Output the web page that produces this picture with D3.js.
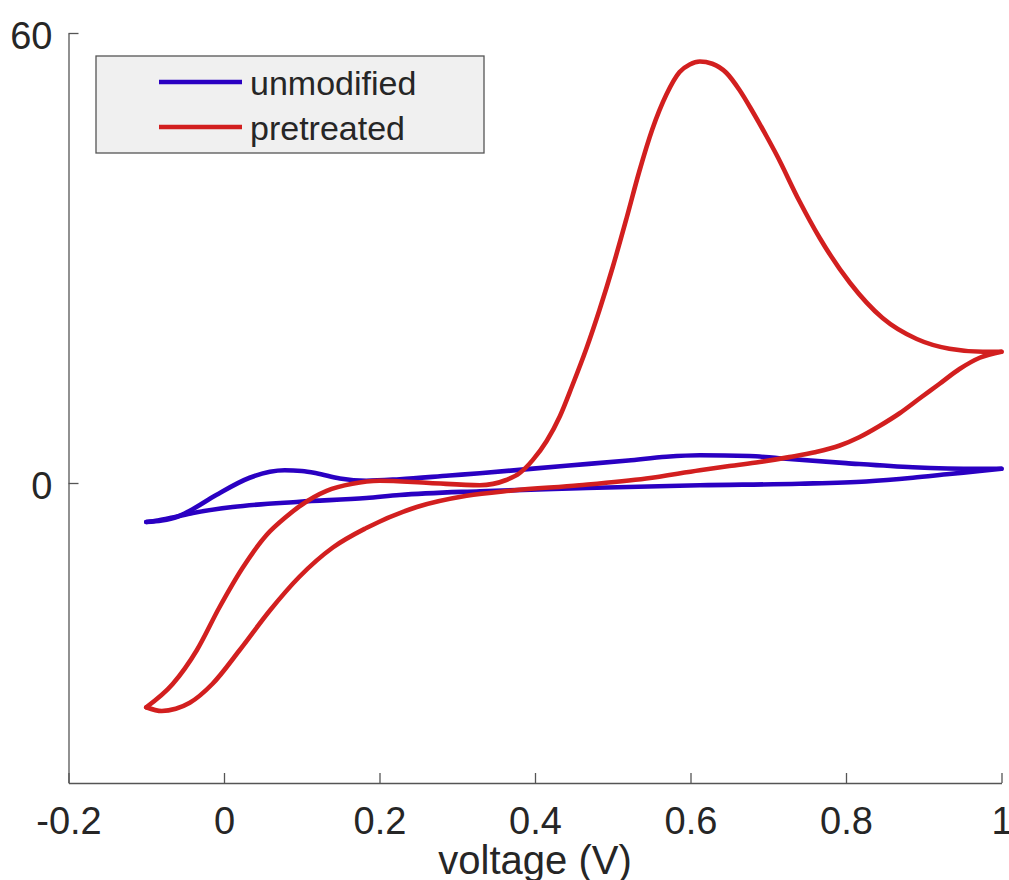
<!DOCTYPE html>
<html>
<head>
<meta charset="utf-8">
<script src="https://cdn.jsdelivr.net/npm/d3@7/dist/d3.min.js"></script>
<style>
  html, body { margin: 0; padding: 0; background: #ffffff; }
  svg { display: block; }
  text { font-family: "Liberation Sans", Arial, Helvetica, sans-serif; fill: #262626; }
</style>
</head>
<body>
<svg id="chart" width="1009" height="880"></svg>
<script>
// Cyclic voltammograms: forward sweep (-0.1 V -> 1.0 V) then reverse sweep back.
const seriesNames = ["unmodified", "pretreated"];
const seriesColors = ["#2a00c2", "#d21f1f"];

// unmodified electrode
const unmodForwardV = [-0.100, -0.080, -0.060, -0.044, -0.010, 0.033, 0.059, 0.078, 0.100, 0.119, 0.149, 0.183, 0.226, 0.290, 0.329, 0.440, 0.520, 0.569, 0.612, 0.676, 0.714, 0.800, 0.886, 0.972, 1.000];
const unmodForwardI = [-5.2, -5.0, -4.5, -3.7, -1.6, 0.7, 1.5, 1.7, 1.6, 1.3, 0.6, 0.3, 0.5, 1.0, 1.3, 2.3, 3.0, 3.5, 3.7, 3.6, 3.3, 2.65, 2.1, 1.9, 1.9];
const unmodReverseV = [1.000, 0.972, 0.933, 0.886, 0.826, 0.740, 0.612, 0.457, 0.329, 0.226, 0.183, 0.097, 0.011, -0.040, -0.066, -0.085, -0.100];
const unmodReverseI = [1.9, 1.6, 1.2, 0.7, 0.2, -0.1, -0.3, -0.7, -1.1, -1.6, -2.0, -2.5, -3.2, -4.0, -4.6, -5.0, -5.2];

// pretreated electrode
const pretForwardV = [-0.100, -0.066, -0.035, -0.006, 0.024, 0.055, 0.080, 0.100, 0.132, 0.165, 0.200, 0.264, 0.329, 0.363, 0.380, 0.397, 0.415, 0.432, 0.448, 0.466, 0.483, 0.500, 0.518, 0.534, 0.551, 0.569, 0.586, 0.599, 0.612, 0.628, 0.646, 0.663, 0.680, 0.698, 0.711, 0.740, 0.766, 0.805, 0.847, 0.891, 0.933, 0.976, 1.000];
const pretForwardI = [-29.9, -26.8, -22.3, -16.6, -11.3, -6.9, -4.5, -2.9, -1.05, -0.1, 0.3, 0.0, -0.3, 0.4, 1.3, 3.05, 5.6, 8.9, 13.0, 17.9, 23.1, 28.8, 35.4, 41.5, 47.2, 51.8, 54.8, 55.8, 56.2, 55.9, 54.7, 52.4, 49.5, 46.2, 43.7, 37.6, 32.7, 26.7, 22.0, 19.2, 17.9, 17.5, 17.5];
const pretReverseV = [1.000, 0.972, 0.946, 0.920, 0.895, 0.869, 0.843, 0.817, 0.792, 0.760, 0.727, 0.689, 0.650, 0.612, 0.543, 0.457, 0.371, 0.312, 0.248, 0.183, 0.140, 0.097, 0.059, 0.020, -0.015, -0.044, -0.062, -0.080, -0.100];
const pretReverseI = [17.5, 16.7, 15.2, 13.2, 11.3, 9.3, 7.6, 6.1, 5.0, 4.1, 3.45, 2.8, 2.26, 1.7, 0.6, -0.3, -1.0, -1.7, -3.2, -6.0, -8.6, -12.5, -17.0, -22.3, -26.8, -29.3, -30.1, -30.4, -29.9];

// axis ticks
const xTicks = [-0.2, 0, 0.2, 0.4, 0.6, 0.8, 1];
const yTicks = [0, 60];
const xTitle = "voltage (V)";

const svg = d3.select("#chart");

const x = d3.scaleLinear().domain([-0.2, 1]).range([68.5, 1001.5]);
const y = d3.scaleLinear().domain([-40, 60]).range([783, 33]);

function toPoints(vs, is) {
  const pts = vs.map((v, k) => ({ v: v, i: is[k] }));
  return pts.sort((a, b) => a.v - b.v);
}

// each sweep is drawn as its own branch so it can use a monotone-in-x curve
const branches = [
  { s: 0, pts: toPoints(unmodForwardV, unmodForwardI) },
  { s: 0, pts: toPoints(unmodReverseV, unmodReverseI) },
  { s: 1, pts: toPoints(pretForwardV, pretForwardI) },
  { s: 1, pts: toPoints(pretReverseV, pretReverseI) }
];

const line = d3.line()
  .x(d => x(d.v))
  .y(d => y(d.i))
  .curve(d3.curveMonotoneX);

// axes (ticks pointing inward, no box)
const xAxis = d3.axisBottom(x).tickValues(xTicks)
  .tickFormat(d => String(+d.toFixed(1)))
  .tickSizeInner(-10).tickSizeOuter(0).tickPadding(24);
const yAxis = d3.axisLeft(y).tickValues(yTicks)
  .tickFormat(d => String(d))
  .tickSizeInner(-10).tickSizeOuter(0).tickPadding(16);

const gx = svg.append("g").attr("transform", "translate(0,783)").call(xAxis);
const gy = svg.append("g").attr("transform", "translate(68.5,0)").call(yAxis);

[gx, gy].forEach(g => {
  g.select(".domain").attr("stroke", "#555").attr("stroke-width", 1.3);
  g.selectAll(".tick line").attr("stroke", "#555").attr("stroke-width", 1.3);
  g.selectAll(".tick text")
    .style("font-family", "'Liberation Sans', Arial, sans-serif")
    .style("font-size", "38px")
    .attr("fill", "#262626");
});
gy.selectAll(".tick text").attr("dy", "0.42em");

svg.append("text")
  .attr("x", (x.range()[0] + x.range()[1]) / 2)
  .attr("y", 874)
  .attr("text-anchor", "middle")
  .style("font-size", "40px")
  .text(xTitle);

// voltammogram traces
svg.append("g").selectAll("path.trace")
  .data(branches)
  .join("path")
  .attr("class", "trace")
  .attr("d", d => line(d.pts))
  .attr("fill", "none")
  .attr("stroke", d => seriesColors[d.s])
  .attr("stroke-width", 4.6)
  .attr("stroke-linejoin", "round")
  .attr("stroke-linecap", "round");

// legend
const legend = svg.append("g");
legend.append("rect")
  .attr("x", 96).attr("y", 56).attr("width", 388).attr("height", 97)
  .attr("fill", "#f0f0f0").attr("stroke", "#555").attr("stroke-width", 1.3);
const items = legend.selectAll("g.item")
  .data(seriesNames)
  .join("g")
  .attr("class", "item")
  .attr("transform", (d, k) => `translate(0,${82 + k * 45})`);
items.append("line")
  .attr("x1", 159).attr("x2", 242).attr("y1", 0).attr("y2", 0)
  .attr("stroke", (d, k) => seriesColors[k])
  .attr("stroke-width", 4.6);
items.append("text")
  .attr("x", 250).attr("y", 13)
  .style("font-size", "34px")
  .text(d => d);
</script>
</body>
</html>
